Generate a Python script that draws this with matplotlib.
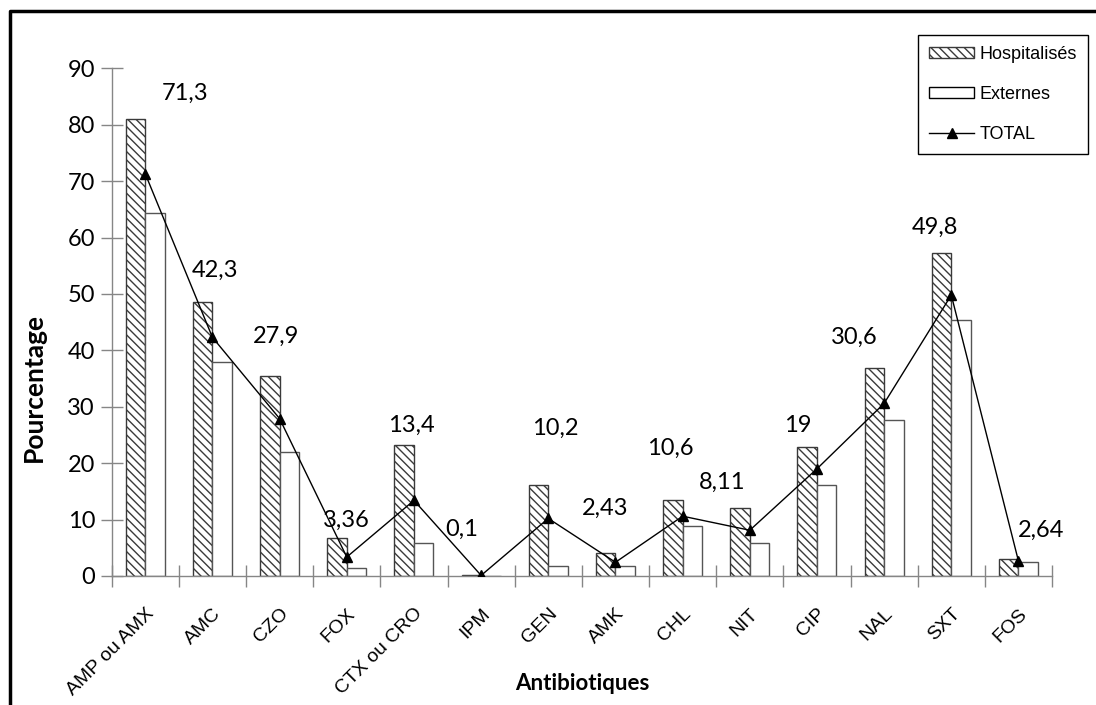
import matplotlib
matplotlib.use("Agg")
from matplotlib import pyplot as plt
from matplotlib.lines import Line2D
from matplotlib.patches import Patch
import numpy as np

# data
categories = ['AMP ou AMX', 'AMC', 'CZO', 'FOX', 'CTX ou CRO', 'IPM', 'GEN',
              'AMK', 'CHL', 'NIT', 'CIP', 'NAL', 'SXT', 'FOS']
hospitalises = [81.1, 48.5, 35.5, 6.7, 23.3, 0.2, 16.2, 4.1, 13.4, 12.1, 22.8, 36.9, 57.2, 3.0]
externes = [64.4, 37.9, 21.9, 1.5, 5.9, 0.0, 1.8, 1.8, 8.9, 5.9, 16.2, 27.6, 45.4, 2.4]
total = [71.3, 42.3, 27.9, 3.36, 13.4, 0.1, 10.2, 2.43, 10.6, 8.11, 19, 30.6, 49.8, 2.64]
total_labels = ['71,3', '42,3', '27,9', '3,36', '13,4', '0,1', '10,2',
                '2,43', '10,6', '8,11', '19', '30,6', '49,8', '2,64']

# where each TOTAL label sits relative to its point (pixels)
label_offsets = [(40, 80), (3, 67), (-4, 82), (0, 37), (-3, 75), (-19, 46), (7, 90),
                 (-10, 54), (-12, 68), (-28, 48), (-19, 43), (-30, 66), (-16, 68), (23, 31)]

narrow = ['Liberation Sans', 'DejaVu Sans']
calibri = ['Lato', 'DejaVu Sans']
axis_grey = '#868686'

fig = plt.figure(figsize=(10.96, 7.05), dpi=100)
ax = fig.add_axes([0.1019, 0.183, 0.858, 0.7201])

x = np.arange(len(categories))
w = 0.29
ax.bar(x - w / 2, hospitalises, w, color='white', edgecolor='#3a3a3a',
       hatch='\\\\\\\\', linewidth=1, zorder=2)
ax.bar(x + w / 2, externes, w, color='white', edgecolor='#555555',
       linewidth=1, zorder=2)
ax.plot(x, total, color='black', linewidth=1, marker='^', markersize=7, zorder=3)

for i in range(len(total)):
    ax.annotate(total_labels[i], (x[i], total[i]), xytext=label_offsets[i],
                textcoords='offset pixels', ha='center', va='center',
                fontsize=17, family=calibri)

ax.set_xlim(-0.5, len(categories) - 0.5)
ax.set_ylim(0, 90)
ax.set_yticks(range(0, 91, 10))
ax.set_xticks(np.arange(len(categories) + 1) - 0.5)
ax.set_xticklabels([])
ax.set_xticks(x, minor=True)
ax.set_xticklabels(categories, minor=True, rotation=45, ha='right',
                   rotation_mode='anchor')
for lab in ax.get_xticklabels(minor=True):
    lab.set_fontfamily(narrow)
    lab.set_fontsize(14)
ax.tick_params(axis='x', which='minor', length=0, pad=21)
ax.tick_params(axis='both', which='major', direction='inout', length=16,
               color=axis_grey, width=1)
for lab in ax.get_yticklabels():
    lab.set_fontsize(17)
    lab.set_fontfamily(calibri)
ax.tick_params(axis='y', pad=4)

for s in ['top', 'right']:
    ax.spines[s].set_visible(False)
for s in ['left', 'bottom']:
    ax.spines[s].set_color(axis_grey)
    ax.spines[s].set_linewidth(1)

# axis titles sit where the reference puts them (not centred on the axes)
fig.text(34 / 1096, 1 - 388 / 705, 'Pourcentage', rotation=90, ha='center', va='center',
         fontsize=19, fontweight='bold', family=calibri)
fig.text(582 / 1096, 1 - 684 / 705, 'Antibiotiques', ha='center', va='center',
         fontsize=16, fontweight='bold', family=calibri)

handles = [Patch(facecolor='white', edgecolor='#3a3a3a', hatch='\\\\\\\\', linewidth=1),
           Patch(facecolor='white', edgecolor='black', linewidth=1),
           Line2D([], [], color='black', linewidth=1, marker='^', markersize=7)]
leg = ax.legend(handles, ['Hospitalisés', 'Externes', 'TOTAL'],
                loc='upper right', bbox_to_anchor=(1088 / 1096, 1 - 35 / 705),
                bbox_transform=fig.transFigure, borderaxespad=0, fancybox=False,
                framealpha=1, edgecolor='black', prop={'family': narrow, 'size': 13},
                handlelength=2.5, handleheight=0.6, handletextpad=0.3,
                labelspacing=1.27, borderpad=0.6)
leg.get_frame().set_linewidth(1)

# outer frame (left and top edges only)
fig.add_artist(Line2D([9.5 / 1096, 9.5 / 1096, 1], [0, 1 - 11 / 705, 1 - 11 / 705],
                      transform=fig.transFigure, color='black', linewidth=2.5))

fig.savefig('out.png', dpi=100)
